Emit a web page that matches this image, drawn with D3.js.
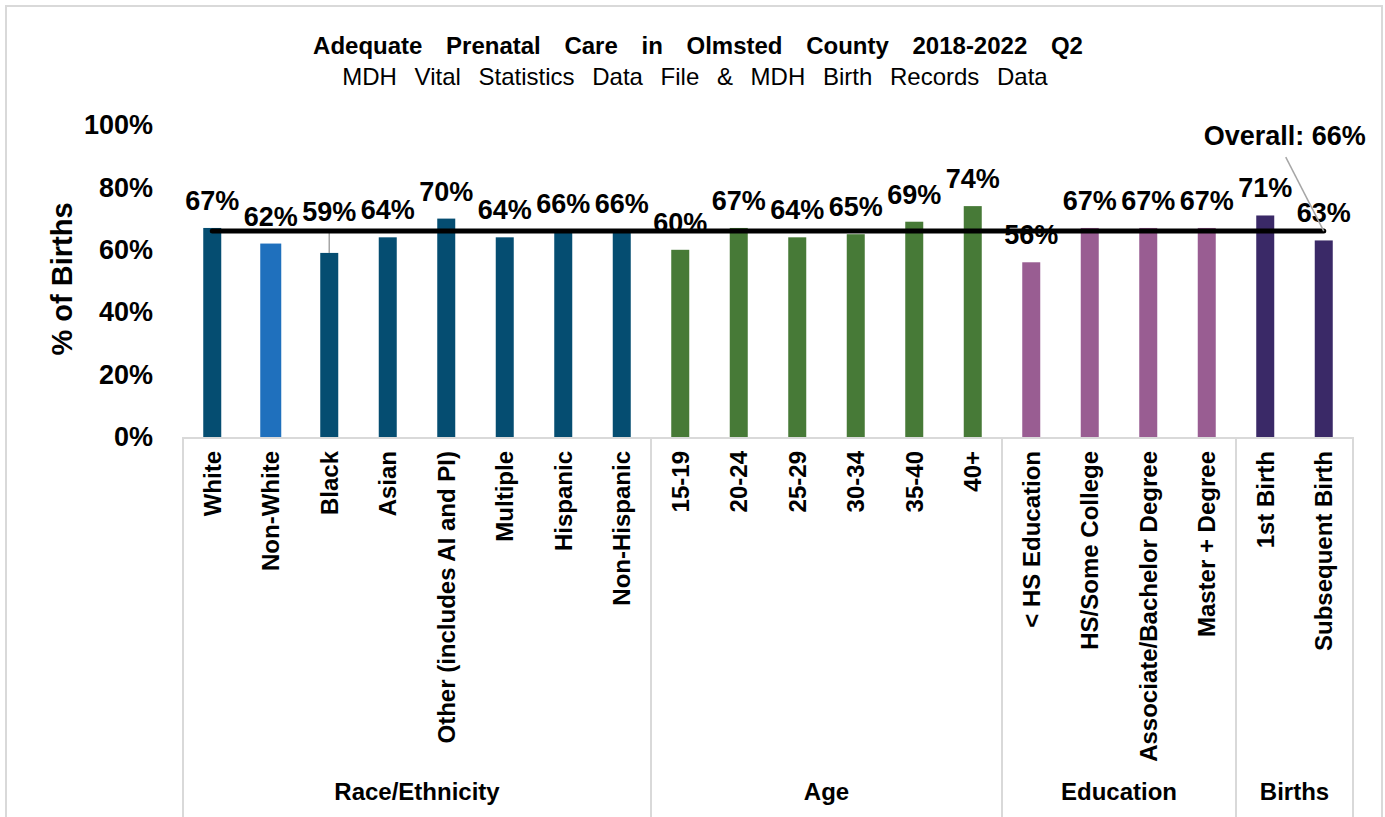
<html>
    <head>
        <meta charset="utf-8">
        <title>Adequate Prenatal Care</title>
        <style type="text/css">
            body{margin:0;background:#fff;}
            text{font-family:"Liberation Sans",Arial,sans-serif;fill:#000;}
        </style>
        <script src="https://d3js.org/d3.v7.min.js"></script>
    </head>
    <body>
    	<svg width="1385" height="817"></svg>
    	<script>
        // data
        var groups = ["Race/Ethnicity","Age","Education","Births"];
        var groupSizes = [8,6,4,2];
        var categories = ["White","Non-White","Black","Asian","Other (includes AI and PI)","Multiple","Hispanic","Non-Hispanic",
                          "15-19","20-24","25-29","30-34","35-40","40+",
                          "< HS Education","HS/Some College","Associate/Bachelor Degree","Master + Degree",
                          "1st Birth","Subsequent Birth"];
        var values = [67,62,59,64,70,64,66,66, 60,67,64,65,69,74, 56,67,67,67, 71,63];
        var overall = 66;
        var yTicks = [0,20,40,60,80,100];

        var groupColors = {"Race/Ethnicity":"#054d71","Age":"#477a37","Education":"#995d92","Births":"#3a2967"};
        var highlight = {"Non-White":"#1f70bd"};

		var svg = d3.select("svg"),
		    margin = {top: 125, right: 32, bottom: 380, left: 183},
		    width = +svg.attr("width")-margin.left-margin.right,
		    height = +svg.attr("height")-margin.top-margin.bottom,
	    	g = svg.append("g").attr("transform",`translate(${margin.left},${margin.top})`);

        // chart frame
        svg.append("rect").attr("x",6).attr("y",6).attr("width",1376).attr("height",830)
            .attr("fill","none").attr("stroke","#d9d9d9").attr("stroke-width",2);

        svg.append("text").attr("x",698).attr("y",54).attr("text-anchor","middle")
            .style("font-weight","bold").style("font-size","24px").style("word-spacing","17px")
            .text("Adequate Prenatal Care in Olmsted County 2018-2022 Q2");
        svg.append("text").attr("x",695).attr("y",85).attr("text-anchor","middle")
            .style("font-size","24px").style("word-spacing","11px")
            .text("MDH Vital Statistics Data File & MDH Birth Records Data");

        var groupOf = [];
        groupSizes.forEach((n,i)=>{ for(var k=0;k<n;k++) groupOf.push(groups[i]); });
        var data = categories.map((c,i)=>({cat:c,value:values[i],group:groupOf[i]}));

	    var xScale = d3.scaleBand().domain(categories).range([0,width]);
	    var yScale = d3.scaleLinear().domain([0,100]).range([height,0]);
        var bw = 18;

        // y axis labels only
        var yAxis = g.append("g").attr("class","axis")
            .call(d3.axisLeft(yScale).tickValues(yTicks).tickFormat(d=>d+"%").tickSize(0).tickPadding(30));
        yAxis.select(".domain").remove();
        yAxis.selectAll("text").style("font-size","27px").style("font-weight","bold")
            .style("font-family","'Liberation Sans',Arial,sans-serif");

        svg.append("text")
            .attr("transform","translate(72,279) rotate(-90)")
            .attr("text-anchor","middle")
            .style("font-weight","bold").style("font-size","29px")
            .text("% of Births");

        // bars
        g.selectAll(".bar").data(data).enter().append("rect")
            .attr("class","bar")
            .attr("x",d=>xScale(d.cat)+xScale.bandwidth()/2-(highlight[d.cat]?10.5:bw/2))
            .attr("width",d=>highlight[d.cat]?21:bw)
            .attr("y",d=>yScale(d.value))
            .attr("height",d=>height-yScale(d.value))
            .attr("fill",d=>highlight[d.cat]||groupColors[d.group]);

        // value labels
        var lift = {"Black":14};
        g.selectAll(".lbl").data(data).enter().append("text")
            .attr("class","lbl")
            .attr("x",d=>xScale(d.cat)+xScale.bandwidth()/2)
            .attr("y",d=>yScale(d.value)-18-(lift[d.cat]||0))
            .attr("text-anchor","middle")
            .style("font-weight","bold").style("font-size","27px")
            .text(d=>d.value+"%");
        g.selectAll(".leader").data(data.filter(d=>lift[d.cat])).enter().append("line")
            .attr("x1",d=>xScale(d.cat)+xScale.bandwidth()/2)
            .attr("x2",d=>xScale(d.cat)+xScale.bandwidth()/2)
            .attr("y1",d=>yScale(d.value)-24)
            .attr("y2",d=>yScale(d.value))
            .attr("stroke","#a6a6a6").attr("stroke-width",1.5);

        // overall line
        var line = d3.line().x(d=>xScale(d.cat)+xScale.bandwidth()/2).y(()=>yScale(overall));
        g.append("path").datum(data).attr("d",line)
            .attr("fill","none").attr("stroke","#000").attr("stroke-width",5).attr("stroke-linecap","round");

        var last = data[data.length-1];
        var lx = xScale(last.cat)+xScale.bandwidth()/2, ly = yScale(overall);
        g.append("line").attr("x1",lx-38).attr("y1",ly-74).attr("x2",lx).attr("y2",ly)
            .attr("stroke","#a6a6a6").attr("stroke-width",1.5);
        g.append("text").attr("x",lx-39).attr("y",ly-86).attr("text-anchor","middle")
            .style("font-weight","bold").style("font-size","27px")
            .text("Overall: "+overall+"%");

        // category axis
        g.append("line").attr("x1",0).attr("x2",width).attr("y1",height+1).attr("y2",height+1)
            .attr("stroke","#d9d9d9").attr("stroke-width",2);
        g.selectAll(".cat").data(data).enter().append("text")
            .attr("class","cat")
            .attr("transform",d=>`translate(${xScale(d.cat)+xScale.bandwidth()/2},${height+14}) rotate(-90)`)
            .attr("dy","0.35em")
            .attr("text-anchor","end")
            .style("font-weight","bold").style("font-size","24px")
            .text(d=>d.cat);

        var start = 0, bounds = [0];
        groupSizes.forEach(n=>{ start += n; bounds.push(start); });
        g.selectAll(".div").data(bounds).enter().append("line")
            .attr("x1",d=>d*xScale.step()).attr("x2",d=>d*xScale.step())
            .attr("y1",height).attr("y2",height+400)
            .attr("stroke","#d9d9d9").attr("stroke-width",2);
        g.selectAll(".grp").data(groups).enter().append("text")
            .attr("x",(d,i)=>(bounds[i]+bounds[i+1])/2*xScale.step())
            .attr("y",height+363)
            .attr("text-anchor","middle")
            .style("font-weight","bold").style("font-size","24px")
            .text(d=>d);
    	</script>
  </body>
</html>
